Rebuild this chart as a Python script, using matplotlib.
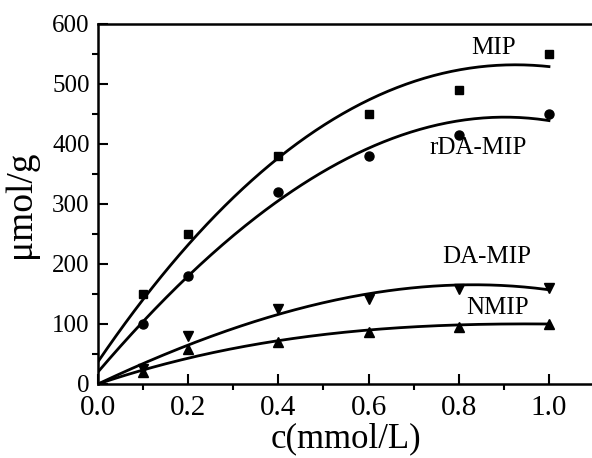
import matplotlib.pyplot as plt
import numpy as np

plt.rcParams['font.family'] = ['Liberation Serif', 'DejaVu Serif']

# concentration (mmol/L)
c = [0.1, 0.2, 0.4, 0.6, 0.8, 1.0]

# adsorption (umol/g)
mip = [150, 250, 380, 450, 490, 550]
rda_mip = [100, 180, 320, 380, 415, 450]
da_mip = [25, 80, 125, 142, 158, 160]
nmip = [20, 58, 70, 87, 95, 100]

# fitted curves, cubic coefficients (a, b, c, d)
fit_mip = [37, 1104, -652, 40]
fit_rda = [20, 880, -385, -76]
fit_da = [0, 354, -135, -62]
fit_nmip = [0, 253, -200, 47]

names = ["MIP", "rDA-MIP", "DA-MIP", "NMIP"]
label_x = [0.876, 0.843, 0.863, 0.885]
label_y = [560, 393, 212, 127]

fig = plt.figure(figsize=(5.92, 4.58), dpi=100)
ax = fig.add_axes([0.1655, 0.1616, 0.838, 0.786])

xs = np.linspace(0, 1.0, 200)
def curve(k):
    return k[0] + k[1]*xs + k[2]*xs**2 + k[3]*xs**3

for k in [fit_mip, fit_rda, fit_da, fit_nmip]:
    ax.plot(xs, curve(k), color="black", lw=2)

ax.plot(c, mip, "s", color="black", ms=6)
ax.plot(c, rda_mip, "o", color="black", ms=6.5)
ax.plot(c, da_mip, "v", color="black", ms=7)
ax.plot(c, nmip, "^", color="black", ms=6.5)

for n, x, y in zip(names, label_x, label_y):
    ax.text(x, y, n, fontsize=18, ha="center", va="center")

ax.set_xlim(0, 1.1)
ax.set_ylim(0, 600)
ax.set_xticks([0.0, 0.2, 0.4, 0.6, 0.8, 1.0])
ax.set_xticklabels(["0.0", "0.2", "0.4", "0.6", "0.8", "1.0"])
ax.set_xticks(np.arange(0.1, 1.1, 0.2), minor=True)
ax.set_yticks(range(0, 601, 100))
ax.set_yticks(range(50, 600, 100), minor=True)
ax.tick_params(direction="in", width=1.5)
ax.tick_params(which="major", length=7)
ax.tick_params(which="minor", length=4, width=1.5)
ax.tick_params(axis="x", labelsize=21, pad=8)
ax.tick_params(axis="y", labelsize=18, pad=6)
for s in ax.spines.values():
    s.set_linewidth(1.8)
ax.spines["right"].set_visible(False)

ax.set_xlabel("c(mmol/L)", fontsize=25, labelpad=1)
ax.set_ylabel("μmol/g", fontsize=27, labelpad=10)

fig.savefig("out.png", dpi=100)
